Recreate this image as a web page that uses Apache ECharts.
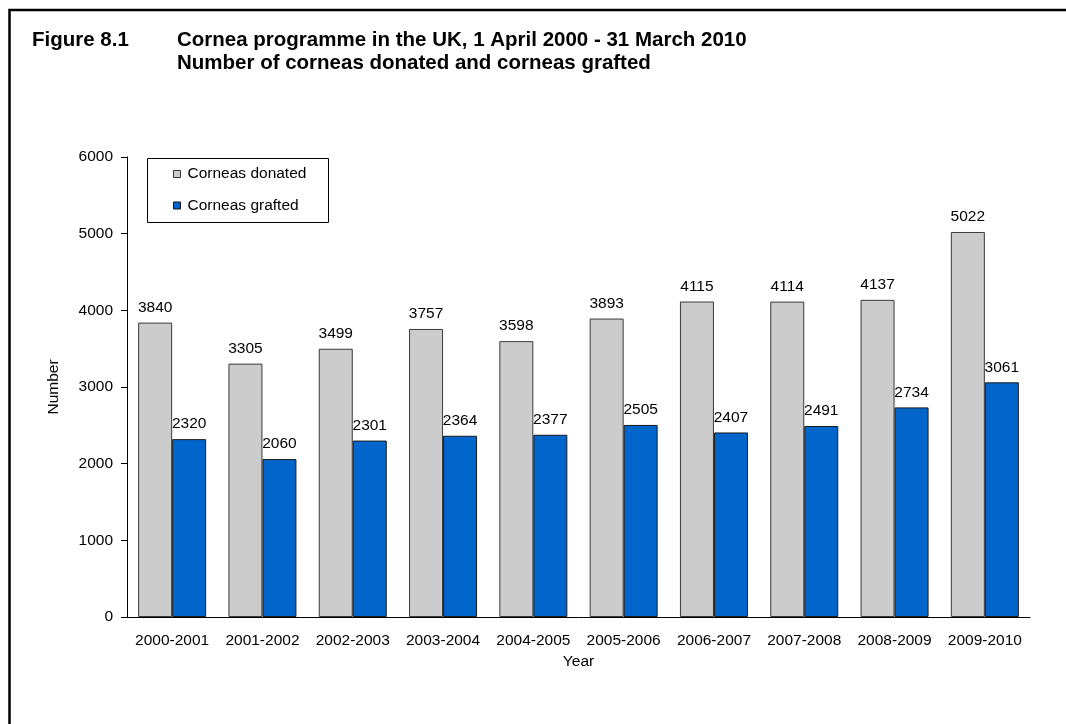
<!DOCTYPE html>
<html>
<head>
<meta charset="utf-8">
<title>Cornea programme in the UK</title>
<script src="https://cdn.jsdelivr.net/npm/echarts@6/dist/echarts.min.js"></script>
<style>
  html, body { margin: 0; padding: 0; background: #ffffff; }
  #chart { width: 1066px; height: 724px; }
</style>
</head>
<body>
<div id="chart"></div>
<script>
// Financial years covered by the cornea programme
const years = ['2000-2001', '2001-2002', '2002-2003', '2003-2004', '2004-2005',
               '2005-2006', '2006-2007', '2007-2008', '2008-2009', '2009-2010'];
// Corneas donated per year
const donated = [3840, 3305, 3499, 3757, 3598, 3893, 4115, 4114, 4137, 5022];
// Corneas grafted per year
const grafted = [2320, 2060, 2301, 2364, 2377, 2505, 2407, 2491, 2734, 3061];
// Value axis ticks
const yTicks = [0, 1000, 2000, 3000, 4000, 5000, 6000];

const FONT = '"Liberation Sans", Arial, sans-serif';
const FS = 15.5;

const chart = echarts.init(document.getElementById('chart'), null, { renderer: 'canvas' });

const barLabel = {
  show: true,
  position: 'top',
  distance: 7,
  color: '#000',
  fontFamily: FONT,
  fontSize: FS
};

const headingText = (text, x, y) => ({
  type: 'text',
  silent: true,
  x: x,
  y: y,
  style: {
    text: text,
    fill: '#000',
    font: 'bold 20.5px ' + FONT,
    textAlign: 'left',
    textVerticalAlign: 'middle',
    verticalAlign: 'middle'
  }
});

chart.setOption({
  backgroundColor: '#ffffff',
  animation: false,
  graphic: [
    // page frame
    {
      type: 'rect',
      silent: true,
      shape: { x: 9.5, y: 10, width: 1100, height: 800 },
      style: { fill: 'none', stroke: '#000', lineWidth: 2.5 }
    },
    // figure heading
    headingText('Figure 8.1', 32, 40),
    headingText('Cornea programme in the UK, 1 April 2000 - 31 March 2010', 177, 40),
    headingText('Number of corneas donated and corneas grafted', 177, 63),
    // legend frame
    {
      type: 'rect',
      silent: true,
      z: 1,
      shape: { x: 147.5, y: 158.5, width: 181, height: 64 },
      style: { fill: '#fff', stroke: '#000', lineWidth: 1 }
    }
  ],
  legend: {
    orient: 'vertical',
    left: 173,
    top: 166,
    padding: 0,
    itemGap: 15.5,
    itemWidth: 7,
    itemHeight: 7,
    icon: 'rect',
    z: 5,
    textStyle: { fontFamily: FONT, fontSize: FS, color: '#000', padding: [0, 0, 0, 2] },
    data: [
      { name: 'Corneas donated', itemStyle: { color: '#cccccc', borderColor: '#333', borderWidth: 1 } },
      { name: 'Corneas grafted', itemStyle: { color: '#0066cc', borderColor: '#111', borderWidth: 1 } }
    ]
  },
  grid: { left: 127, right: 36, top: 157, bottom: 107, containLabel: false },
  xAxis: {
    type: 'category',
    data: years,
    name: 'Year',
    nameLocation: 'middle',
    nameGap: 30,
    nameTextStyle: { fontFamily: FONT, fontSize: FS, color: '#000' },
    axisLine: { show: true, lineStyle: { color: '#000', width: 1 } },
    axisTick: { show: false },
    axisLabel: { fontFamily: FONT, fontSize: FS, color: '#000', margin: 16, interval: 0 }
  },
  yAxis: {
    type: 'value',
    min: yTicks[0],
    max: yTicks[yTicks.length - 1],
    interval: yTicks[1] - yTicks[0],
    name: 'Number',
    nameLocation: 'middle',
    nameGap: 65,
    nameRotate: 90,
    nameTextStyle: { fontFamily: FONT, fontSize: FS, color: '#000' },
    axisLine: { show: true, lineStyle: { color: '#000', width: 1 } },
    axisTick: { show: true, inside: false, length: 6, lineStyle: { color: '#000' } },
    axisLabel: { fontFamily: FONT, fontSize: FS, color: '#000', margin: 14, formatter: v => String(v) },
    splitLine: { show: false }
  },
  series: [
    {
      name: 'Corneas donated',
      type: 'bar',
      data: donated,
      barWidth: 34,
      barGap: '0%',
      itemStyle: { color: '#cccccc', borderColor: '#3a3a3a', borderWidth: 1 },
      label: barLabel
    },
    {
      name: 'Corneas grafted',
      type: 'bar',
      data: grafted,
      barWidth: 34,
      barGap: '0%',
      itemStyle: { color: '#0066cc', borderColor: '#1a1a1a', borderWidth: 1 },
      label: barLabel
    }
  ]
});
</script>
</body>
</html>
